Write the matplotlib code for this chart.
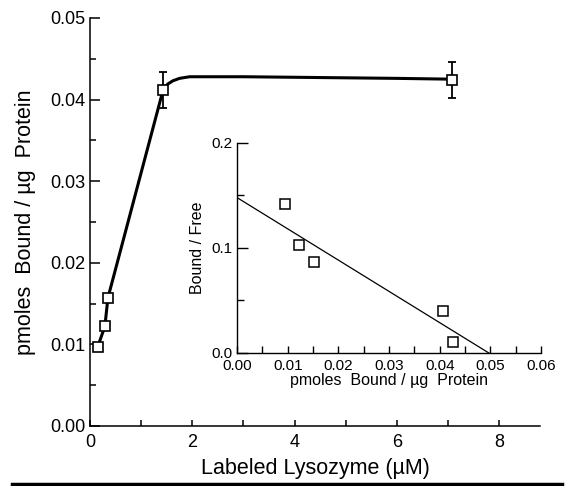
import matplotlib.pyplot as plt
from matplotlib.lines import Line2D
from matplotlib.ticker import MultipleLocator, FormatStrFormatter

plt.rcParams['font.family'] = ['Liberation Sans', 'DejaVu Sans']

# main plot: binding of labeled lysozyme
lys = [0.15, 0.29, 0.35, 1.43, 7.08]
bound = [0.0097, 0.0122, 0.0157, 0.0412, 0.0424]
bound_err = [0, 0, 0, 0.0022, 0.0022]

# smooth curve
curve_x = [0.15, 0.29, 0.35, 1.43, 1.52, 1.62, 1.75, 1.95, 2.3, 3.0, 4.5, 6.0, 7.08]
curve_y = [0.0097, 0.0122, 0.0157, 0.0412, 0.0419, 0.0423, 0.0426, 0.0428, 0.0428, 0.0428, 0.0427, 0.0426, 0.0425]

# inset: Scatchard plot
sc_x = [0.0095, 0.0122, 0.0152, 0.0407, 0.0426]
sc_y = [0.142, 0.103, 0.087, 0.040, 0.0105]
fit_x = [0.0, 0.0497]
fit_y = [0.148, 0.0]

fig = plt.figure(figsize=(5.68, 4.86), dpi=100)
ax = fig.add_axes([0.1585, 0.1235, 0.792, 0.8395])

ax.plot(curve_x, curve_y, color='black', lw=2.2, zorder=2)
ax.errorbar(lys, bound, yerr=bound_err, fmt='none', ecolor='black',
            elinewidth=1.3, capsize=3, capthick=1.3, zorder=3)
ax.plot(lys, bound, ls='none', marker='s', ms=7, mfc='white', mec='black',
        mew=1.2, zorder=4)

ax.set_xlim(0, 8.8)
ax.set_ylim(0, 0.05)
ax.xaxis.set_major_locator(MultipleLocator(2))
ax.xaxis.set_minor_locator(MultipleLocator(1))
ax.yaxis.set_major_locator(MultipleLocator(0.01))
ax.yaxis.set_minor_locator(MultipleLocator(0.005))
ax.yaxis.set_major_formatter(FormatStrFormatter('%.2f'))
ax.spines['top'].set_visible(False)
ax.spines['right'].set_visible(False)
for s in ['left', 'bottom']:
    ax.spines[s].set_linewidth(1.1)
ax.tick_params(axis='both', which='both', direction='in', width=1.1, labelsize=13)
ax.tick_params(axis='x', which='both', pad=6)
ax.tick_params(axis='y', which='major', length=7)
ax.tick_params(axis='y', which='minor', length=4.5)
ax.tick_params(axis='x', which='both', length=4)
ax.set_xlabel('Labeled Lysozyme (\u00b5M)', fontsize=15.5, labelpad=5)
ax.set_ylabel('pmoles  Bound / \u00b5g  Protein', fontsize=15.5, labelpad=10)

# inset
ins = fig.add_axes([0.4173, 0.2737, 0.5352, 0.4321])
ins.patch.set_alpha(0)
ins.plot(fit_x, fit_y, color='black', lw=0.9)
ins.plot(sc_x, sc_y, ls='none', marker='s', ms=6.5, mfc='white', mec='black', mew=1.1)
ins.set_xlim(0, 0.06)
ins.set_ylim(0, 0.2)
ins.xaxis.set_major_locator(MultipleLocator(0.01))
ins.xaxis.set_minor_locator(MultipleLocator(0.005))
ins.yaxis.set_major_locator(MultipleLocator(0.1))
ins.yaxis.set_minor_locator(MultipleLocator(0.05))
ins.xaxis.set_major_formatter(FormatStrFormatter('%.2f'))
ins.yaxis.set_major_formatter(FormatStrFormatter('%.1f'))
ins.spines['top'].set_visible(False)
ins.spines['right'].set_visible(False)
for s in ['left', 'bottom']:
    ins.spines[s].set_linewidth(1.0)
ins.tick_params(axis='both', which='both', direction='in', width=1.0, labelsize=11)
ins.tick_params(axis='x', which='both', pad=4.5)
ins.tick_params(axis='y', which='major', length=8)
ins.tick_params(axis='y', which='minor', length=5)
ins.tick_params(axis='x', which='both', length=5)
ins.set_xlabel('pmoles  Bound / \u00b5g  Protein', fontsize=11.5, labelpad=0)
ins.set_ylabel('Bound / Free', fontsize=11.5, labelpad=4)

# rule along the bottom of the figure
fig.add_artist(Line2D([0.021, 0.99], [0.004, 0.004], color='black', lw=2.5,
                      transform=fig.transFigure))

fig.savefig('out.png', dpi=100)
